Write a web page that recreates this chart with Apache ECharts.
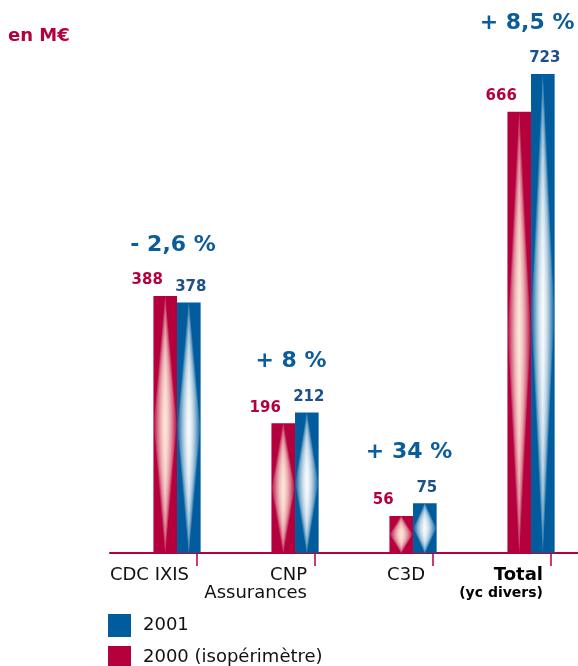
<!DOCTYPE html>
<html>
<head>
<meta charset="utf-8">
<script src="https://cdn.jsdelivr.net/npm/echarts@6/dist/echarts.min.js"></script>
<style>
  html, body { margin: 0; padding: 0; background: #fff; }
  #chart { width: 578px; height: 666px; }
</style>
</head>
<body>
<div id="chart"></div>
<script>
  const categories = ['CDC IXIS', 'CNP\nAssurances', 'C3D', 'Total']
  const values2000 = [388, 196, 56, 666]
  const values2001 = [378, 212, 75, 723]
  const changes = ['- 2,6 %', '+ 8 %', '+ 34 %', '+ 8,5 %']

  const RED = '#b4003c'
  const BLUE = '#005c9c'
  const FONT = 'DejaVu Sans'

  // reflet en losange blanc au milieu de chaque barre
  function glow (side, tint) {
    return function (params, api) {
      const i = api.value(0)
      const v = api.value(1)
      const top = api.coord([i, v])
      const base = api.coord([i, 0])
      const bw = api.size([1, 0])[0] * 0.2
      const x0 = side === 'left' ? top[0] - bw : top[0]
      const cx = x0 + bw / 2
      const h = base[1] - top[1]
      const cy = top[1] + h / 2
      const children = []
      const n = 10
      for (let k = 0; k < n; k++) {
        const s = 1 - k / n
        const hh = h / 2 * s
        const hw = bw / 2 * Math.min(1, s * 1.6)
        children.push({
          type: 'polygon',
          shape: { points: [[cx, cy - hh], [cx + hw, cy], [cx, cy + hh], [cx - hw, cy]] },
          style: {
            fill: new echarts.graphic.LinearGradient(0, 0, 1, 0, [
              { offset: 0, color: 'rgba(' + tint + ',0)' },
              { offset: 0.5, color: 'rgba(' + tint + ',0.3)' },
              { offset: 1, color: 'rgba(' + tint + ',0)' }
            ])
          },
          silent: true
        })
      }
      return { type: 'group', children: children }
    }
  }

  const chart = echarts.init(document.getElementById('chart'))
  chart.setOption({
    animation: false,
    textStyle: { fontFamily: FONT },
    graphic: [{
      type: 'text',
      left: 8,
      top: 27,
      style: { text: 'en M€', fill: RED, font: 'bold 18px "DejaVu Sans"' }
    }],
    legend: {
      data: ['2001', '2000 (isopérimètre)'],
      orient: 'vertical',
      left: 103,
      top: 609,
      height: 80,
      icon: 'rect',
      itemWidth: 23,
      itemHeight: 23,
      itemGap: 9,
      selectedMode: false,
      textStyle: { fontSize: 18, color: '#111', fontFamily: FONT, padding: [0, 0, 0, 7] }
    },
    grid: [
      // barres : axe numérique, une unité = un groupe de barres
      { left: 110, right: 0, top: 74, bottom: 113 },
      // libellés et graduations, décalés à droite des barres
      { left: 197, right: 27, top: 74, bottom: 113 }
    ],
    xAxis: [{
      type: 'value',
      gridIndex: 0,
      min: -0.568,
      max: 3.398,
      axisLine: { show: true, onZero: false, lineStyle: { color: RED, width: 2 } },
      axisTick: { show: false },
      axisLabel: { show: false },
      splitLine: { show: false }
    }, {
      type: 'category',
      gridIndex: 1,
      data: categories,
      boundaryGap: false,
      axisLine: { show: false },
      axisTick: { show: true, interval: 0, length: 13, lineStyle: { color: RED, width: 1.5 } },
      axisLabel: {
        interval: 0,
        align: 'right',
        margin: 13,
        padding: [0, 8, 0, 0],
        fontSize: 18,
        lineHeight: 18,
        color: '#111',
        formatter: function (value) {
          if (value === 'Total') {
            return '{t|Total}\n{s|(yc divers)}'
          }
          return value
        },
        rich: {
          t: { fontSize: 18, fontWeight: 'bold', color: '#000', lineHeight: 19, align: 'right' },
          s: { fontSize: 14, fontWeight: 'bold', color: '#000', lineHeight: 16, align: 'right' }
        }
      }
    }],
    yAxis: [
      { type: 'value', gridIndex: 0, min: 0, max: 723, show: false, splitLine: { show: false } },
      { type: 'value', gridIndex: 1, min: 0, max: 723, show: false, splitLine: { show: false } }
    ],
    series: [{
      name: '2000 (isopérimètre)',
      type: 'bar',
      data: values2000.map((v, i) => [i, v]),
      barWidth: 23.6,
      barGap: 0,
      itemStyle: { color: RED },
      label: {
        show: true,
        position: 'top',
        distance: 8,
        offset: [-18, 0],
        color: RED,
        fontSize: 15,
        fontWeight: 'bold',
        formatter: function (p) { return p.value[1] }
      },
      z: 2
    }, {
      name: '2001',
      type: 'bar',
      data: values2001.map((v, i) => [i, v]),
      barWidth: 23.6,
      barGap: 0,
      itemStyle: { color: BLUE },
      label: {
        show: true,
        position: 'top',
        distance: 8,
        offset: [2, 0],
        color: '#1d4f8c',
        fontSize: 15,
        fontWeight: 'bold',
        formatter: function (p) { return p.value[1] }
      },
      z: 2
    }, {
      name: 'glow2000',
      type: 'custom',
      renderItem: glow('left', '255,236,220'),
      data: values2000.map((v, i) => [i, v]),
      encode: { x: 0, y: 1 },
      silent: true,
      z: 3
    }, {
      name: 'glow2001',
      type: 'custom',
      renderItem: glow('right', '255,255,255'),
      data: values2001.map((v, i) => [i, v]),
      encode: { x: 0, y: 1 },
      silent: true,
      z: 3
    }, {
      name: 'variation',
      type: 'scatter',
      data: changes.map((c, i) => [i, Math.max(values2000[i], values2001[i])]),
      symbolSize: 0,
      silent: true,
      itemStyle: { opacity: 1 },
      label: {
        show: true,
        position: 'top',
        distance: 40,
        offset: [-4, 0],
        color: '#0b5c9a',
        fontSize: 22,
        fontWeight: 'bold',
        formatter: function (p) {
          return changes[p.dataIndex]
        }
      },
      z: 4
    }]
  })
</script>
</body>
</html>
